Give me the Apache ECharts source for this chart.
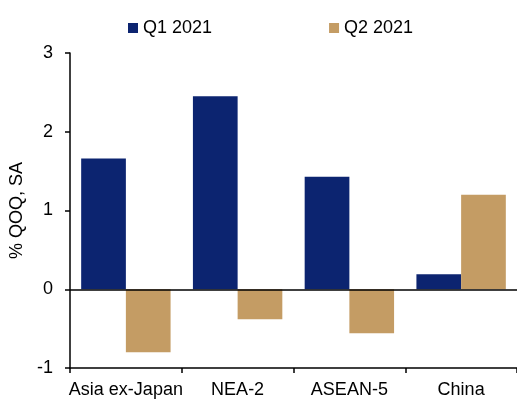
<!DOCTYPE html>
<html>
<head>
<meta charset="utf-8">
<script src="https://cdn.jsdelivr.net/npm/echarts@6/dist/echarts.min.js"></script>
<style>
    html, body { margin: 0; padding: 0; background: #fff; }
    #chart { width: 517px; height: 401px; }
</style>
</head>
<body>
<div id="chart"></div>
<script>
const categories = ["Asia ex-Japan", "NEA-2", "ASEAN-5", "China"]
const q1Values = [1.66, 2.45, 1.43, 0.19]
const q2Values = [-0.8, -0.38, -0.56, 1.2]
const seriesNames = ["Q1 2021", "Q2 2021"]

const font = "Liberation Sans, Arial, sans-serif"
let myChart = echarts.init(document.getElementById("chart"))
myChart.setOption({
    animation: false,
    legend: {
        data: seriesNames,
        top: 14,
        left: 123,
        icon: "rect",
        itemWidth: 10,
        itemHeight: 10,
        itemGap: 117,
        textStyle: { fontFamily: font, fontSize: 18, color: "#000" },
    },
    grid: { left: 70, right: 0, top: 53, bottom: 33 },
    xAxis: {
        type: "category",
        data: categories,
        axisLine: { onZero: false, lineStyle: { color: "#000", width: 1.5 } },
        axisTick: { show: true, length: 5, lineStyle: { color: "#000", width: 1.5 } },
        axisLabel: { margin: 13, fontFamily: font, fontSize: 18, color: "#000", interval: 0 },
    },
    yAxis: {
        type: "value",
        min: -1,
        max: 3,
        interval: 1,
        name: "% QOQ, SA",
        nameLocation: "middle",
        nameGap: 38,
        nameTextStyle: { fontFamily: font, fontSize: 18, color: "#000" },
        axisLine: { show: true, lineStyle: { color: "#000", width: 1.5 } },
        axisTick: { show: true, length: 5, lineStyle: { color: "#000", width: 1.5 } },
        axisLabel: { margin: 17, fontFamily: font, fontSize: 18, color: "#000" },
        splitLine: { show: false },
    },
    series: [
        {
            name: seriesNames[0],
            type: "bar",
            data: q1Values,
            barGap: "0%",
            barCategoryGap: "20%",
            itemStyle: { color: "#0C2470" },
            markLine: {
                silent: true,
                symbol: "none",
                label: { show: false },
                lineStyle: { color: "#000", width: 1.5, type: "solid" },
                data: [{ yAxis: 0 }],
            },
        },
        {
            name: seriesNames[1],
            type: "bar",
            data: q2Values,
            itemStyle: { color: "#C49C64" },
        },
    ],
})
window.addEventListener("resize", function () {
    myChart.resize()
})
</script>
</body>
</html>
